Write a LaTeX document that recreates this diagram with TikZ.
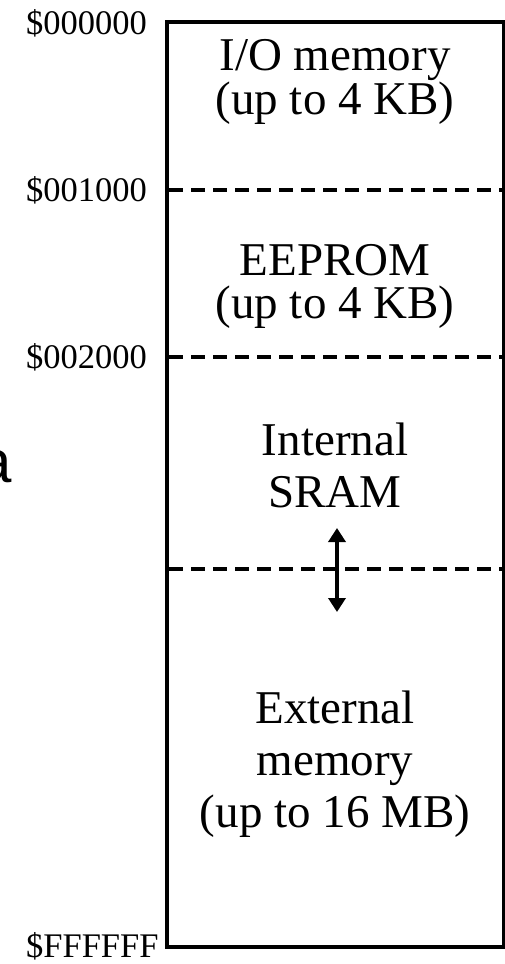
\documentclass[tikz,border=0pt]{standalone}
\usepackage{fontspec}
\setmainfont{Liberation Serif}
\newfontfamily\strayfont{Liberation Sans}
\usetikzlibrary{arrows.meta}
\begin{document}
\begin{tikzpicture}[x=1pt,y=-1pt,
  addr/.style={anchor=base west,inner sep=0pt,font=\fontsize{34.5}{40}\selectfont},
  boxtext/.style={anchor=base,inner sep=0pt,font=\fontsize{47}{50}\selectfont},
  divider/.style={line width=3.5pt,dash pattern=on 14pt off 8pt},
  frame/.style={line width=4pt},
  dblarrow/.style={line width=3.5pt,{Triangle[length=14pt,width=17pt]}-{Triangle[length=14pt,width=17pt]}}]
\useasboundingbox (0,0) rectangle (504,964);
\fill[white] (0,0) rectangle (504,964);
% frame
\coordinate (tl) at (167,22);
\coordinate (br) at (504,947);
\draw[frame] (tl) rectangle (br);
% dividers
\coordinate (d1l) at (169,190); \coordinate (d1r) at (504,190);
\coordinate (d2l) at (169,357); \coordinate (d2r) at (504,357);
\coordinate (d3l) at (169,569); \coordinate (d3r) at (504,569);
\draw[divider] (d1l) -- (d1r);
\draw[divider] (d2l) -- (d2r);
\draw[divider] (d3l) -- (d3r);
% addresses
\node[addr] (a0) at (26,34) {\$000000};
\node[addr] (a1) at (26,201) {\$001000};
\node[addr] (a2) at (26,368) {\$002000};
\node[addr] (a3) at (26,957) {\$FFFFFF};
% box texts
\node[boxtext] (io1) at (335,70) {I/O memory};
\node[boxtext] (io2) at (335,114) {(up to 4 KB)};
\node[boxtext] (ee1) at (335,275) {EEPROM};
\node[boxtext] (ee2) at (335,318) {(up to 4 KB)};
\node[boxtext] (in1) at (335,455) {Internal};
\node[boxtext] (in2) at (335,507) {SRAM};
\node[boxtext] (ex1) at (335,723) {External};
\node[boxtext] (ex2) at (335,775) {memory};
\node[boxtext] (ex3) at (335,827) {(up to 16 MB)};
% arrow
\coordinate (at) at (337,528);
\coordinate (ab) at (337,612);
\draw[dblarrow] (at) -- (ab);
% stray letter
\node[anchor=base east,inner sep=0pt,font=\strayfont\fontsize{60}{60}\selectfont] (stray) at (12,482) {a};
\end{tikzpicture}
\end{document}
